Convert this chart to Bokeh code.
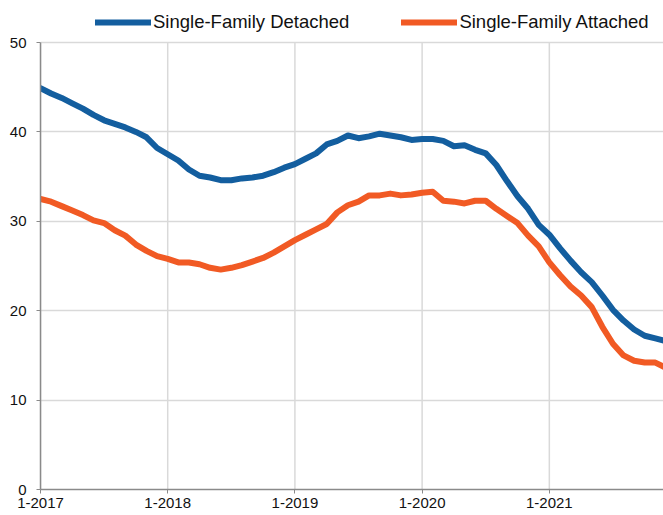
from bokeh.plotting import figure
from bokeh.models import Legend, LegendItem, FixedTicker
from bokeh.embed import file_html
from bokeh.resources import INLINE

months = list(range(60))
tick_positions = [0, 12, 24, 36, 48]
tick_labels = ["1-2017", "1-2018", "1-2019", "1-2020", "1-2021"]
y_ticks = [0, 10, 20, 30, 40, 50]

detached = [44.9, 44.3, 43.8, 43.2, 42.6, 41.9, 41.3, 40.9, 40.5, 40.0,
            39.4, 38.2, 37.5, 36.8, 35.8, 35.1, 34.9, 34.6, 34.6, 34.8,
            34.9, 35.1, 35.5, 36.0, 36.4, 37.0, 37.6, 38.6, 39.0, 39.6,
            39.3, 39.5, 39.8, 39.6, 39.4, 39.1, 39.2, 39.2, 39.0, 38.4,
            38.5, 38.0, 37.6, 36.3, 34.5, 32.8, 31.4, 29.6, 28.5, 27.0,
            25.6, 24.3, 23.2, 21.7, 20.1, 18.9, 17.9, 17.2, 16.9, 16.6]

attached = [32.5, 32.2, 31.7, 31.2, 30.7, 30.1, 29.8, 29.0, 28.4, 27.4,
            26.7, 26.1, 25.8, 25.4, 25.4, 25.2, 24.8, 24.6, 24.8, 25.1,
            25.5, 25.9, 26.5, 27.2, 27.9, 28.5, 29.1, 29.7, 31.0, 31.8,
            32.2, 32.9, 32.9, 33.1, 32.9, 33.0, 33.2, 33.3, 32.3, 32.2,
            32.0, 32.3, 32.3, 31.4, 30.6, 29.8, 28.4, 27.2, 25.4, 24.0,
            22.7, 21.7, 20.4, 18.2, 16.3, 15.0, 14.4, 14.2, 14.2, 13.6]

series_names = ["Single-Family Detached", "Single-Family Attached"]
blue = "#135e9f"
orange = "#f15a24"
font = "Liberation Sans"
y_min, y_max = y_ticks[0], y_ticks[-1]

p = figure(width=663, height=515, output_backend="svg", toolbar_location=None,
           x_range=(0, 58.77), y_range=(0, 54.7),
           min_border_left=40, min_border_right=0, min_border_bottom=26, min_border_top=0)
p.outline_line_color = None
p.background_fill_color = "white"

# vertical grid lines limited to the value range (0..50)
p.xgrid.visible = False
p.segment(x0=tick_positions, y0=[y_min] * len(tick_positions),
          x1=tick_positions, y1=[y_max] * len(tick_positions),
          line_color="#d9d9d9", line_width=1.5, level="underlay")

r1 = p.line(months, detached, line_color=blue, line_width=6, line_cap="round", line_join="round")
r2 = p.line(months, attached, line_color=orange, line_width=6, line_cap="round", line_join="round")

p.xaxis.ticker = FixedTicker(ticks=tick_positions)
p.xaxis.major_label_overrides = {t: l for t, l in zip(tick_positions, tick_labels)}
p.yaxis.ticker = FixedTicker(ticks=y_ticks)
p.yaxis.bounds = (y_min, y_max)

for ax in (p.xaxis[0], p.yaxis[0]):
    ax.axis_line_color = "#8a8a8a"
    ax.axis_line_width = 1.5
    ax.major_tick_line_color = "#8a8a8a"
    ax.major_tick_in = 0
    ax.major_tick_out = 4
    ax.minor_tick_line_color = None
    ax.major_label_text_font = font
    ax.major_label_text_font_size = "15px"
    ax.major_label_text_color = "#111111"
p.yaxis.major_label_standoff = 10
p.xaxis.major_label_standoff = 4

p.ygrid.grid_line_color = "#d9d9d9"
p.ygrid.grid_line_width = 1.5

legend = Legend(items=[LegendItem(label=series_names[0], renderers=[r1]),
                       LegendItem(label=series_names[1], renderers=[r2])],
                orientation="horizontal", location=(55, 456))
legend.label_text_font = font
legend.label_text_font_size = "18.5px"
legend.label_text_color = "#111111"
legend.glyph_width = 56
legend.glyph_height = 20
legend.label_standoff = 2
legend.spacing = 52
legend.padding = 2
legend.margin = 0
legend.border_line_color = None
legend.background_fill_alpha = 0
p.add_layout(legend, "center")

open("out.html", "w").write(file_html(p, INLINE))
